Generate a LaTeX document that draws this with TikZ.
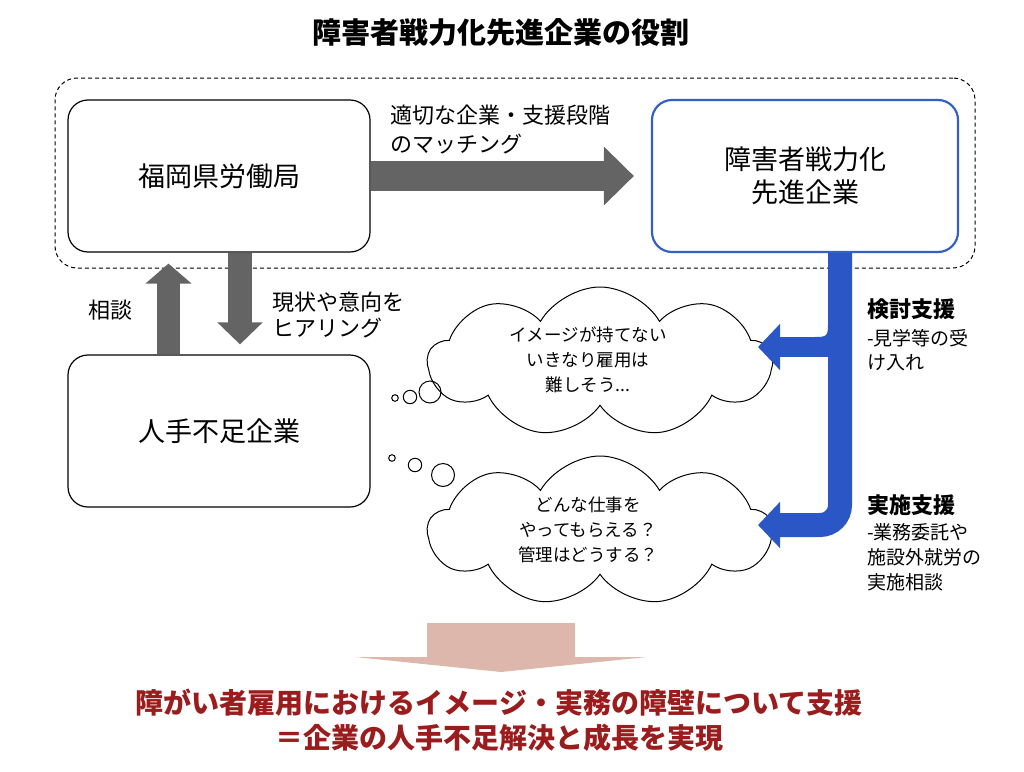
\documentclass[tikz,border=0pt]{standalone}
\usepackage{fontspec}
\setmainfont{Noto Sans CJK JP}
\usetikzlibrary{shapes.symbols,arrows.meta,calc}
\definecolor{agray}{RGB}{100,100,100}
\definecolor{bblue}{RGB}{43,86,198}
\definecolor{bborder}{RGB}{52,96,196}
\definecolor{pinkar}{RGB}{221,183,172}
\definecolor{dred}{RGB}{155,28,28}
\begin{document}
\begin{tikzpicture}[x=1pt,y=-1pt,
  boxstyle/.style={draw, rounded corners=20pt, line width=1.2pt, minimum width=302pt, minimum height=152pt, align=center, font=\fontsize{27}{33}\selectfont, fill=white},
  lbl/.style={anchor=west, inner sep=0pt, align=left},
  cloudstyle/.style={cloud, draw, line width=1pt, cloud puffs=9, cloud puff arc=120, aspect=2.3, minimum width=344pt, minimum height=150pt, inner sep=0pt},
  cloudtext/.style={align=center, font=\fontsize{17.5}{25}\selectfont, inner sep=0pt},
  grayarrow/.style={agray, line width=#1},
  bluearrow/.style={bblue, line width=#1}
]
\useasboundingbox (0,0) rectangle (1024,771);

% title
\node[font=\bfseries\fontsize{29}{35}\selectfont] (title) at (501,32) {障害者戦力化先進企業の役割};

% dashed group frame
\node[draw, dash pattern=on 4pt off 3pt, line width=1pt, rounded corners=22pt, minimum width=920pt, minimum height=190pt] (grp) at (515,173) {};

% boxes
\node[boxstyle] (fuk) at (219,176) {福岡県労働局};
\node[boxstyle, draw=bborder, line width=2.2pt, minimum width=306pt] (senk) at (805,176) {障害者戦力化\\先進企業};
\node[boxstyle] (jin) at (219,431) {人手不足企業};

% gray arrows
\draw[grayarrow=30pt, -{Triangle[length=30pt,width=57pt]}, shorten >=17pt] (fuk.east) -- (senk.west);
\draw[grayarrow=24pt, -{Triangle[length=22pt,width=44pt]}, shorten >=10pt] ($(fuk.south)+(21,0)$) -- ($(jin.north)+(21,0)$);
\draw[grayarrow=23pt, -{Triangle[length=20pt,width=45pt]}, shorten >=11pt] ($(jin.north)+(-50.5,0)$) -- ($(fuk.south)+(-50.5,0)$);

% arrow labels
\node[lbl, font=\fontsize{22}{29}\selectfont] (match) at (390,130) {適切な企業・支援段階\\のマッチング};
\node[lbl, font=\fontsize{22}{26}\selectfont] (hear) at (272,315) {現状や意向を\\ヒアリング};
\node[lbl, font=\fontsize{22}{26}\selectfont] (soudan) at (88,310) {相談};

% clouds
\node[cloudstyle] (cl1) at (600,362) {};
\node[cloudstyle] (cl2) at (600,531) {};
\node[cloudtext] (ct1) at (588,360) {イメージが持てない\\いきなり雇用は\\難しそう...};
\node[cloudtext] (ct2) at (588,530) {どんな仕事を\\やってもらえる？\\管理はどうする？};
\draw[line width=1pt] (395,398) circle (3.3pt) (410,397) circle (6.7pt) (430,392) circle (11pt);
\draw[line width=1pt] (392,458) circle (3.3pt) (415,465) circle (6.7pt) (443,475) circle (11.5pt);

% blue connectors
\coordinate (t1) at (758,347);
\coordinate (t2) at (758,525);
\draw[bluearrow=24pt, rounded corners=20pt, -{Triangle[length=22pt,width=45pt]}] ($(senk.south)+(35,0)$) |- (t2);
\draw[bluearrow=20pt, -{Triangle[length=22pt,width=45pt]}] (840,347) -- (t1);
\fill[bblue] (828,321) .. controls (828,337) .. (812,337) -- (828,337) -- cycle;

% right labels
\node[lbl, font=\bfseries\fontsize{22}{26}\selectfont] (kt) at (867,309) {検討支援};
\node[lbl, font=\fontsize{19}{24}\selectfont] (kt2) at (867,350) {-見学等の受\\け入れ};
\node[lbl, font=\bfseries\fontsize{22}{26}\selectfont] (js) at (867,505) {実施支援};
\node[lbl, font=\fontsize{19}{25}\selectfont] (js2) at (867,557) {-業務委託や\\施設外就労の\\実施相談};

% result arrow and text
\fill[pinkar] (427,623) -- (575,623) -- (575,657) -- (647,657) -- (501,672) -- (355,657) -- (427,657) -- cycle;
\node[align=center, text=dred, font=\bfseries\fontsize{28}{35}\selectfont] (res) at (499,720) {障がい者雇用におけるイメージ・実務の障壁について支援\\＝企業の人手不足解決と成長を実現};
\end{tikzpicture}
\end{document}
